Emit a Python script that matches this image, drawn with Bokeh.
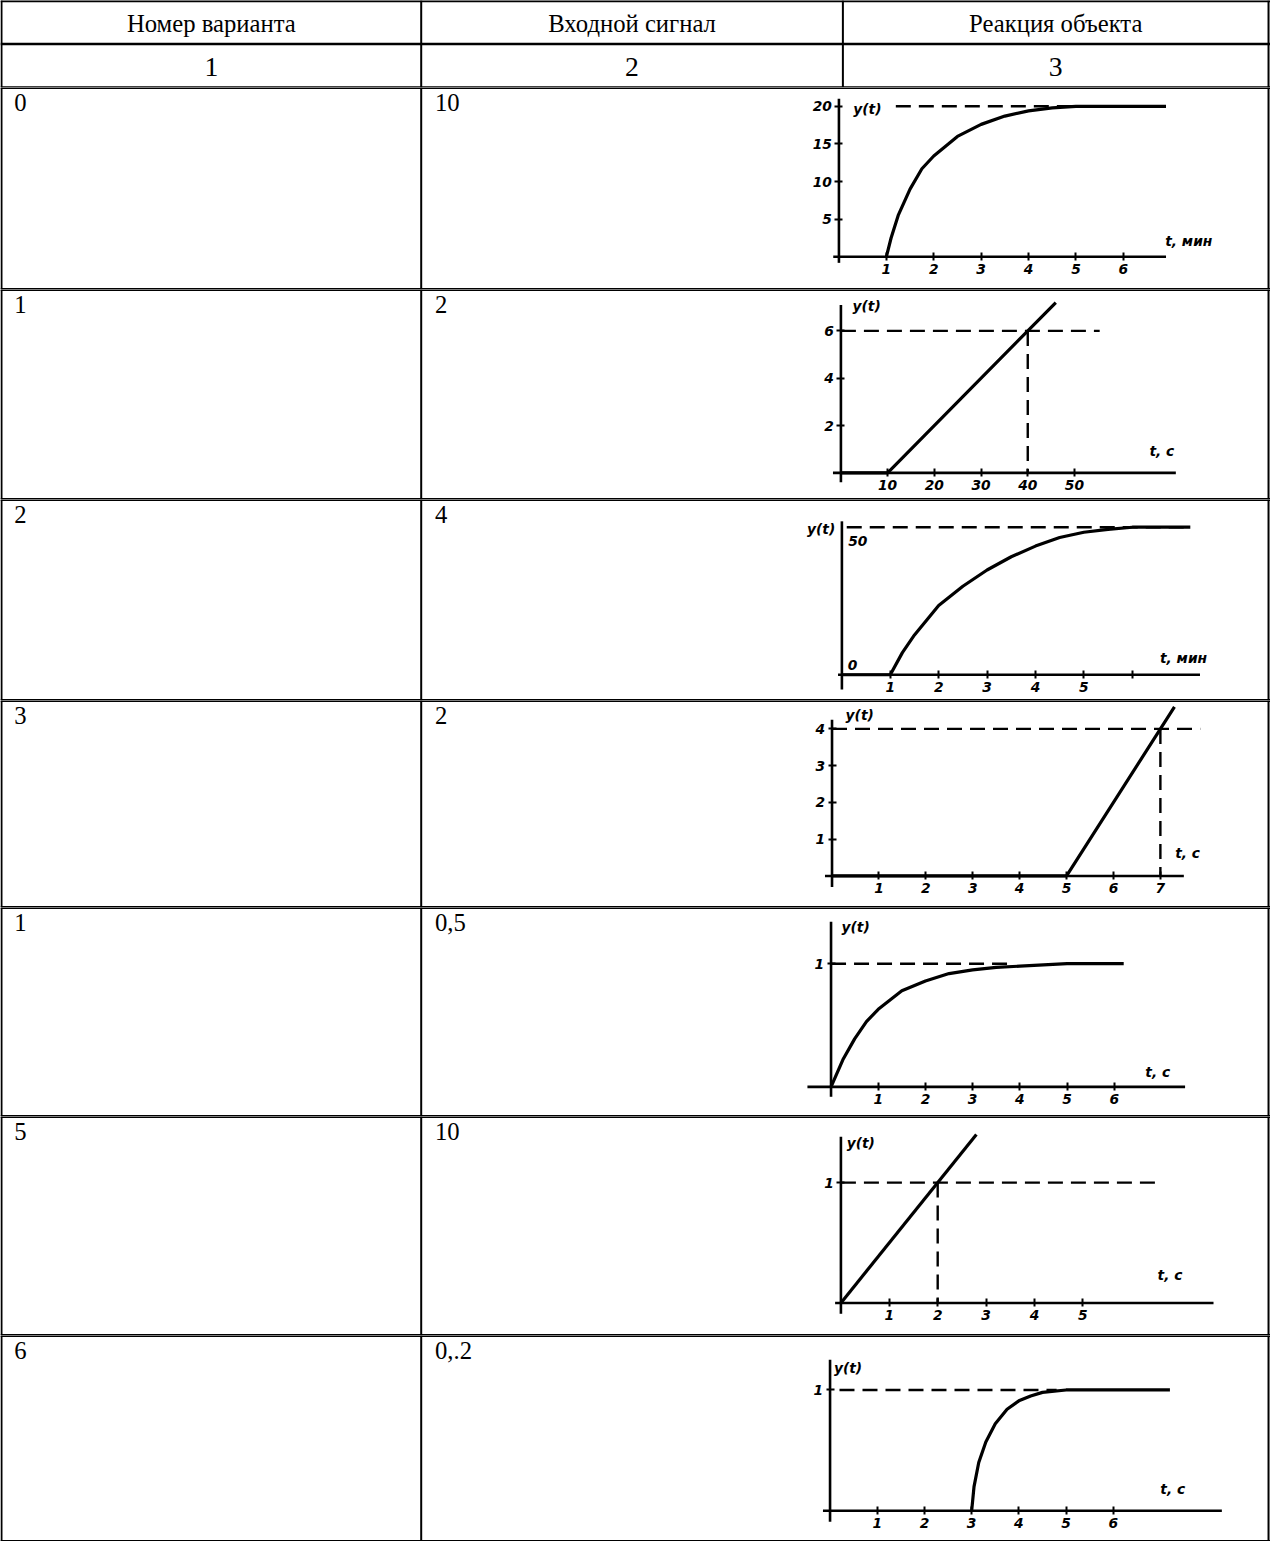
from bokeh.plotting import figure
from bokeh.layouts import column
from bokeh.models import Range1d, FixedTicker
from bokeh.core.properties import value
from bokeh.embed import file_html
from bokeh.resources import INLINE

# ---------------- table content ----------------
headers = ["Номер варианта", "Входной сигнал", "Реакция объекта"]
col_numbers = ["1", "2", "3"]
variant = ["0", "1", "2", "3", "1", "5", "6"]
signal = ["10", "2", "4", "2", "0,5", "10", "0,.2"]

# ---------------- chart data ----------------
c1_t = [1, 1.1, 1.25, 1.5, 1.75, 2, 2.5, 3, 3.5, 4, 4.5, 5, 6, 6.9]
c1_y = [0, 2.5, 5.5, 9, 11.7, 13.4, 16, 17.6, 18.7, 19.4, 19.8, 20, 20, 20]
c1_xticks = [1, 2, 3, 4, 5, 6]
c1_yticks = [5, 10, 15, 20]

c2_t = [0, 10, 46]
c2_y = [0, 0, 7.2]
c2_xticks = [10, 20, 30, 40, 50]
c2_yticks = [2, 4, 6]

c3_t = [0, 1, 1.25, 1.5, 2, 2.5, 3, 3.5, 4, 4.5, 5, 5.5, 6, 7.2]
c3_y = [0, 0, 7.5, 13.5, 23.5, 30, 35.5, 40, 43.6, 46.5, 48.3, 49.3, 50, 50]
c3_xticks = [1, 2, 3, 4, 5, 6]
c3_xlabels = {6: ""}
c3_ylabels = ["50", "0"]
c3_ylabel_vals = [50, 0]

c4_t = [0, 5, 7.3]
c4_y = [0, 0, 4.6]
c4_xticks = [1, 2, 3, 4, 5, 6, 7]
c4_yticks = [1, 2, 3, 4]

c5_t = [0, 0.25, 0.5, 0.75, 1, 1.5, 2, 2.5, 3, 3.5, 4, 5, 6.2]
c5_y = [0, 0.22, 0.39, 0.53, 0.63, 0.78, 0.86, 0.92, 0.95, 0.97, 0.98, 1, 1]
c5_xticks = [1, 2, 3, 4, 5, 6]
c5_yticks = [1]

c6_t = [0, 2.8]
c6_y = [0, 1.4]
c6_xticks = [1, 2, 3, 4, 5]
c6_yticks = [1]

c7_t = [3, 3.05, 3.15, 3.3, 3.5, 3.75, 4, 4.25, 4.5, 5, 5.5, 6, 7.2]
c7_y = [0, 0.2, 0.4, 0.57, 0.72, 0.84, 0.91, 0.95, 0.98, 1, 1, 1, 1]
c7_xticks = [1, 2, 3, 4, 5, 6]
c7_yticks = [1]

# reference lines (steady-state / crossing levels): x0, y0, x1, y1
c1_dash = ([1.2], [20], [6.9], [20])
c2_dash = ([0, 40], [6, 6], [55.4, 40], [6, 0])
c3_dash = ([0.1], [50], [7.1], [50])
c4_dash = ([0, 7], [4, 4], [7.85, 7], [4, 0])
c5_dash = ([0], [1], [3.8], [1])
c6_dash = ([0, 2], [1, 1], [6.5, 2], [1, 0])
c7_dash = ([0.2], [1], [4.8], [1])

# axis extents: (x-axis from, to), (y-axis from, to)
c1_axes = ((-0.12, 6.9), (-0.8, 21))
c2_axes = ((-1.7, 71.7), (-0.4, 7.1))
c3_axes = ((-0.08, 7.4), (-5, 52))
c4_axes = ((-0.15, 7.5), (-0.3, 4.25))
c5_axes = ((-0.5, 7.5), (-0.08, 1.34))
c6_axes = ((-0.12, 7.7), (-0.09, 1.38))
c7_axes = ((-0.15, 8.3), (-0.09, 1.25))

# axis names: texts and their (t, y) anchor
c1_names = (["y(t)", "t, мин"], [0.6, 7.38], [19.7, 2.1])
c2_names = (["y(t)", "t, c"], [5.5, 68.7], [7.04, 0.92])
c3_names = (["y(t)", "t, мин"], [-0.43, 7.06], [49.3, 5.7])
c4_names = (["y(t)", "t, c"], [0.59, 7.58], [4.37, 0.62])
c5_names = (["y(t)", "t, c"], [0.52, 6.92], [1.3, 0.12])
c6_names = (["y(t)", "t, c"], [0.41, 6.8], [1.33, 0.23])
c7_names = (["y(t)", "t, c"], [0.38, 7.26], [1.18, 0.18])

# ---------------- layout (reference pixels) ----------------
S = 0.988
REF_W = 1286
W = 1270
col_edges = [1, 426, 853, 1284]
head_edges = [0, 44, 88]
row_edges = [88, 292, 505, 708, 918, 1130, 1352, 1560]
# chart placement: origin x, origin y (ref px), px per unit x, px per unit y
geom = [
    (849, 259, 48.0, 7.6),
    (851, 478, 4.73, 24.0),
    (852, 682, 49.0, 2.98),
    (842, 886, 47.5, 37.3),
    (841, 1100, 47.8, 125.0),
    (851, 1319, 49.0, 122.0),
    (840, 1529, 47.8, 122.0),
]

SERIF = value("Liberation Serif")
HAND = value("DejaVu Sans")
fs_cell = value(f"{25 * S:.1f}px")
fs_head = value(f"{25 * S:.1f}px")
fs_num = value(f"{28 * S:.1f}px")
fs_hand = f"{14 * S:.1f}px"
DASH = "15 8"


def base_fig(h_ref, xr, yr):
    p = figure(width=W, height=round(h_ref * S), x_range=xr, y_range=yr,
               output_backend="svg", toolbar_location=None, min_border=0)
    p.outline_line_color = None
    p.grid.visible = False
    p.background_fill_color = "white"
    p.border_fill_color = "white"
    return p


# header figure
hh = head_edges[-1]
hp = base_fig(hh, Range1d(0, REF_W), Range1d(hh, 0))
hp.axis.visible = False
ccent = [(col_edges[k] + col_edges[k + 1]) / 2 for k in range(3)]
hp.text(x=ccent, y=[(head_edges[0] + head_edges[1]) / 2 + 1] * 3, text=headers,
        text_font=SERIF, text_font_size=fs_head, text_align="center",
        text_baseline="middle", text_color="black")
hp.text(x=ccent, y=[(head_edges[1] + head_edges[2]) / 2 + 1] * 3, text=col_numbers,
        text_font=SERIF, text_font_size=fs_num, text_align="center",
        text_baseline="middle", text_color="black")
hp.segment(x0=[0, 0, 0], y0=[0.5, head_edges[1], hh], x1=[REF_W] * 3,
           y1=[0.5, head_edges[1], hh], line_color="black", line_width=2.5)
hp.segment(x0=col_edges, y0=[0] * 4, x1=col_edges, y1=[hh] * 4,
           line_color="black", line_width=2)

charts = [
    (c1_t, c1_y, c1_xticks, c1_yticks, c1_dash, c1_axes, c1_names),
    (c2_t, c2_y, c2_xticks, c2_yticks, c2_dash, c2_axes, c2_names),
    (c3_t, c3_y, c3_xticks, [], c3_dash, c3_axes, c3_names),
    (c4_t, c4_y, c4_xticks, c4_yticks, c4_dash, c4_axes, c4_names),
    (c5_t, c5_y, c5_xticks, c5_yticks, c5_dash, c5_axes, c5_names),
    (c6_t, c6_y, c6_xticks, c6_yticks, c6_dash, c6_axes, c6_names),
    (c7_t, c7_y, c7_xticks, c7_yticks, c7_dash, c7_axes, c7_names),
]

figs = [hp]
for i, (ts, ys, xt, yt, dash, axes, names) in enumerate(charts):
    top, bot = row_edges[i], row_edges[i + 1]
    rh = bot - top
    ox, oy, kx, ky = geom[i]
    xr = Range1d((0 - ox) / kx, (REF_W - ox) / kx)
    yr = Range1d((oy - bot) / ky, (oy - top) / ky)
    p = base_fig(rh, xr, yr)
    p.extra_x_ranges = {"px": Range1d(0, REF_W)}
    p.extra_y_ranges = {"px": Range1d(rh, 0)}

    # table borders
    p.segment(x0=[0, 0], y0=[0, rh], x1=[REF_W, REF_W], y1=[0, rh],
              line_color="black", line_width=3,
              x_range_name="px", y_range_name="px")
    p.segment(x0=[col_edges[0], col_edges[1], col_edges[3]], y0=[0] * 3,
              x1=[col_edges[0], col_edges[1], col_edges[3]], y1=[rh] * 3,
              line_color="black", line_width=2,
              x_range_name="px", y_range_name="px")
    # cell texts
    p.text(x=[col_edges[0] + 13, col_edges[1] + 14], y=[7, 7],
           text=[variant[i], signal[i]], text_font=SERIF, text_font_size=fs_cell,
           text_baseline="top", text_align="left", text_color="black",
           x_range_name="px", y_range_name="px")

    # axes lines
    (xa0, xa1), (ya0, ya1) = axes
    p.segment(x0=[xa0, 0], y0=[0, ya0], x1=[xa1, 0], y1=[0, ya1],
              line_color="black", line_width=2.6)
    # reference dashed lines
    p.segment(x0=dash[0], y0=dash[1], x1=dash[2], y1=dash[3],
              line_color="black", line_width=2.4, line_dash=DASH)
    # response
    p.line(ts, ys, line_color="black", line_width=3.2)
    # axis names
    p.text(x=names[1], y=names[2], text=names[0], text_font=HAND,
           text_font_style="bold italic", text_font_size=value(fs_hand),
           text_align="center", text_baseline="middle", text_color="black")

    for ax, ticks in ((p.xaxis, xt), (p.yaxis, yt)):
        ax.fixed_location = 0
        ax.ticker = FixedTicker(ticks=ticks)
        ax.axis_line_color = None
        ax.major_tick_in = 4
        ax.major_tick_out = 4
        ax.major_tick_line_width = 2
        ax.minor_tick_line_color = None
        ax.major_label_text_font = "DejaVu Sans"
        ax.major_label_text_font_style = "bold italic"
        ax.major_label_text_font_size = fs_hand
        ax.major_label_text_color = "black"
        ax.major_label_standoff = 3
    if i == 2:
        p.xaxis.major_label_overrides = c3_xlabels
        p.text(x=[0.33, 0.22], y=c3_ylabel_vals, text=c3_ylabels,
               y_offset=[14, -10], text_font=HAND, text_font_style="bold italic",
               text_font_size=value(fs_hand), text_align="center",
               text_baseline="middle", text_color="black")
    figs.append(p)

layout = column(*figs, spacing=0)
open("out.html", "w").write(file_html(layout, INLINE))
